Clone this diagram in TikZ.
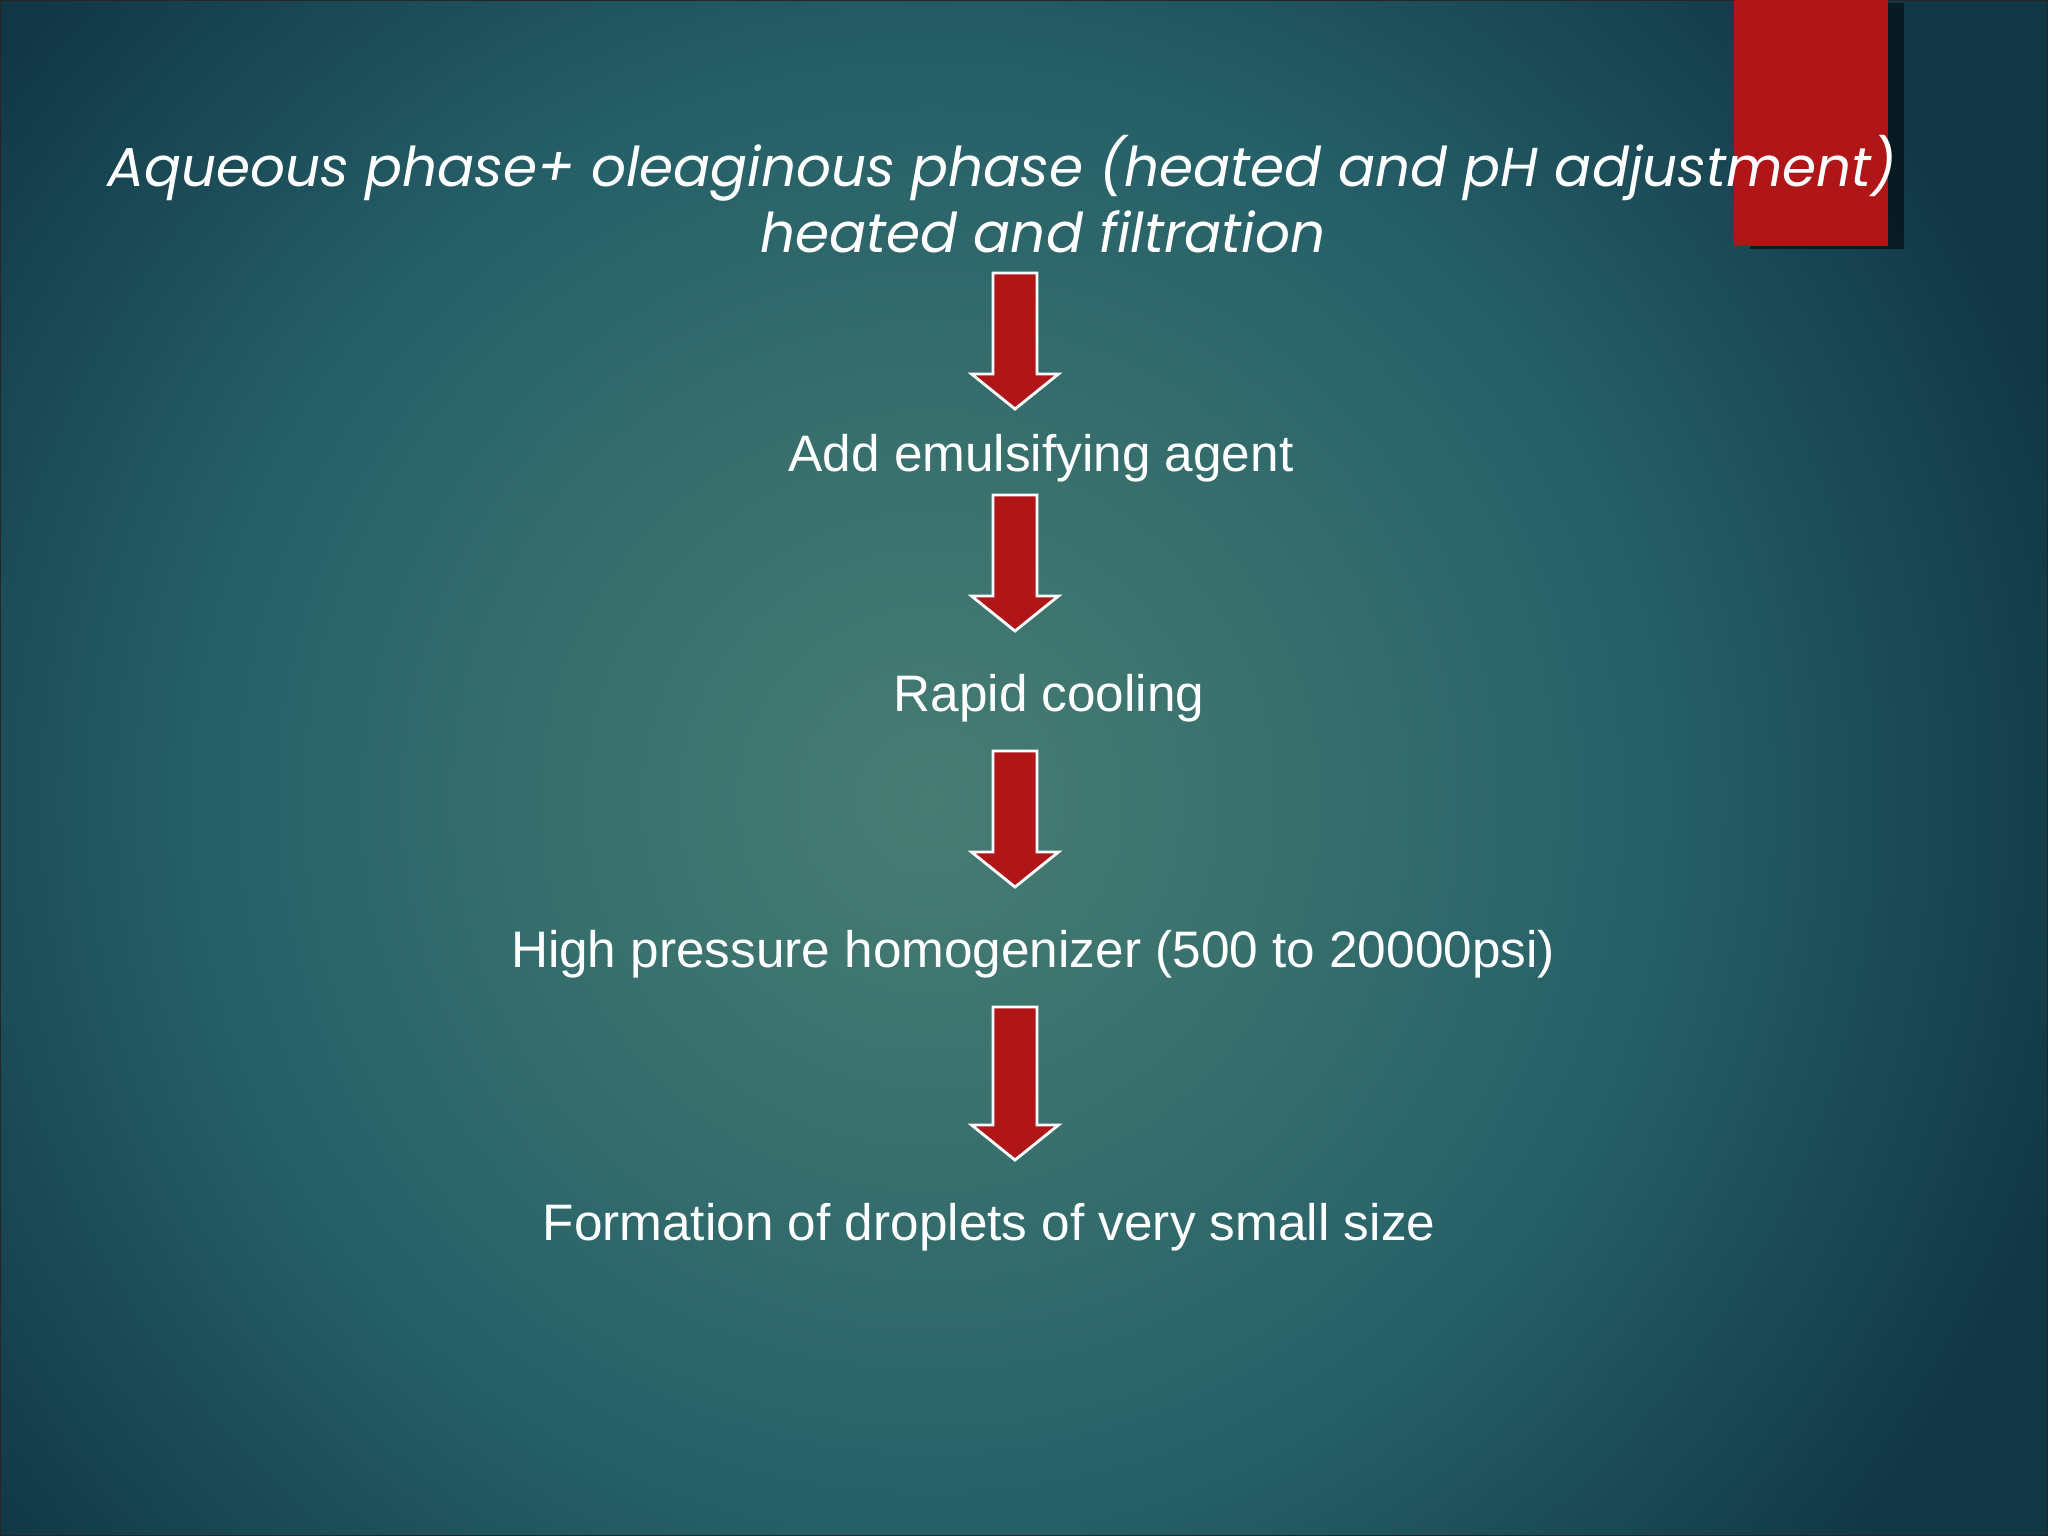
\documentclass[tikz,border=0pt]{standalone}
\usepackage{fontspec}
\setmainfont{Liberation Sans}
\newfontfamily\titlefont{Poppins}
\usetikzlibrary{positioning, calc}

\definecolor{bgcenter}{RGB}{70,124,114}
\definecolor{bgmid}{RGB}{38,96,104}
\definecolor{bgedge}{RGB}{17,54,70}
\definecolor{slidered}{RGB}{176,22,24}
\pgfdeclareradialshading{slideglow}{\pgfpoint{0bp}{0bp}}{color(0bp)=(bgcenter); color(7bp)=(bgcenter!60!bgmid); color(15bp)=(bgmid); color(25bp)=(bgedge); color(50bp)=(bgedge)}

\begin{document}
\begin{tikzpicture}
        \tikzstyle{steptext}=[anchor=base, inner sep=0pt, text=white, font=\fontsize{14.6}{17}\selectfont];
        \tikzstyle{titletext}=[anchor=base, inner sep=0pt, text=white, font=\titlefont\itshape\fontsize{15.6}{19}\selectfont];
        \tikzstyle{arrowfill}=[fill=slidered, draw=white, line width=0.8pt, line join=miter];
        \tikzset{pics/blockarrow/.style={code={
            \draw[arrowfill] (-0.22,0) -- (0.22,0) -- (0.22,-#1+0.35) -- (0.435,-#1+0.35)
                -- (0,-#1) -- (-0.435,-#1+0.35) -- (-0.22,-#1+0.35) -- cycle;
        }}}

        \useasboundingbox (0,0) rectangle (20.48,-15.36);

        % background
        \begin{scope}
            \clip (0,0) rectangle (20.48,-15.36);
            \shade[shading=slideglow] (-2.7,4.0) rectangle (21.3,-20.0);
        \end{scope}
        \draw[black!85, line width=0.03cm] (0,0) rectangle (20.48,-15.36);

        % red tab
        \fill[black!60!bgedge, opacity=0.85] (17.50,-0.03) rectangle (19.04,-2.49);
        \fill[slidered] (17.34,0) rectangle (18.88,-2.46);

        \node[titletext] (title) at (10.02, -1.87) {Aqueous phase+ oleaginous phase (heated and pH adjustment)};
        \node[titletext] (subtitle) at (10.43, -2.53) {heated and filtration};

        \node[steptext] (emuls) at (10.41, -4.72) {Add emulsifying agent};
        \node[steptext] (cooling) at (10.49, -7.11) {Rapid cooling};
        \node[steptext] (homog) at (10.33, -9.67) {High pressure homogenizer (500 to 20000psi)};
        \node[steptext] (droplets) at (9.89, -12.40) {Formation of droplets of very small size};

        \pic (arr1) at (10.15, -2.73) {blockarrow=1.36};
        \pic (arr2) at (10.15, -4.95) {blockarrow=1.36};
        \pic (arr3) at (10.15, -7.51) {blockarrow=1.36};
        \pic (arr4) at (10.15, -10.07) {blockarrow=1.53};

    \end{tikzpicture}
\end{document}
